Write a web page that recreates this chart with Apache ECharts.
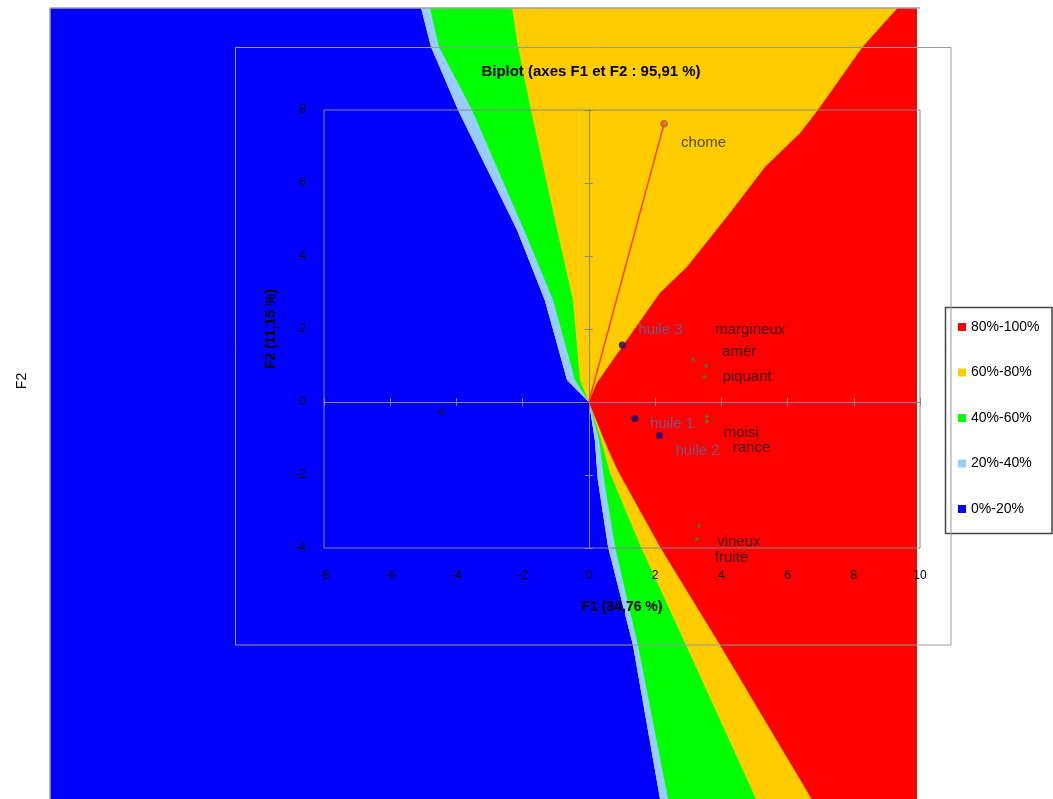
<!DOCTYPE html>
<html>
<head>
<meta charset="utf-8">
<script src="https://cdn.jsdelivr.net/npm/echarts@6/dist/echarts.min.js"></script>
<style>
html,body{margin:0;padding:0;background:#fff;}
#chart{width:1053px;height:799px;}
</style>
</head>
<body>
<div id="chart"></div>
<script>
// ---------------- data ----------------
// Preference-map band edges (F1, F2), top to bottom
const edgeBlueLightBlue = [[-5.07,10.8],[-4.77,9.73],[-3.95,8.0],[-2.17,4.71],[-1.33,2.79],[-0.66,0.60],[0,0],[0.18,-1.04],[0.27,-2.14],[0.58,-3.97],[1.33,-6.66],[2.15,-10.88]];
const edgeLightBlueGreen = [[-4.80,10.8],[-4.53,9.73],[-3.53,8.0],[-1.96,4.71],[-1.08,2.79],[-0.42,0.60],[0,0],[0.31,-1.04],[0.46,-2.14],[0.79,-3.97],[1.48,-6.66],[2.39,-10.88]];
const edgeGreenOrange = [[-2.32,10.8],[-2.14,9.73],[-1.75,8.0],[-0.96,4.71],[-0.48,2.79],[-0.27,0.60],[0,0],[0.37,-1.04],[0.64,-1.95],[1.57,-3.97],[2.93,-6.66],[5.05,-10.88]];
const edgeOrangeRed = [[9.33,10.8],[8.27,9.73],[6.92,8.0],[6.38,7.37],[5.32,6.44],[4.26,5.18],[2.96,3.70],[2.15,2.99],[1.09,1.62],[0.24,0.52],[0,0],[0.46,-1.04],[0.82,-1.78],[1.03,-2.14],[2.15,-3.97],[3.96,-6.66],[6.73,-10.88]];

const bandNames = ['80%-100%','60%-80%','40%-60%','20%-40%','0%-20%'];

// Observations
const obsNames = ['huile 1','huile 2','huile 3',''];
const obsF1 = [1.39, 2.13, 1.01, -4.45];
const obsF2 = [-0.45, -0.92, 1.56, -0.27];

// Variables
const varNames = ['margineux','amér','piquant','moisi','rance','vineux','fruité'];
const varF1 = [3.15, 3.54, 3.49, 3.56, 3.56, 3.33, 3.26];
const varF2 = [1.17, 0.99, 0.69, -0.40, -0.54, -3.40, -3.75];

// Consumer vector
const consumerName = 'chome';
const consumerF1 = 2.27;
const consumerF2 = 7.62;

// Axis ticks
const f1Min = -8, f1Max = 10, f1Step = 2;
const f2Min = -4, f2Max = 8, f2Step = 2;

// ---------------- layout (pixels) ----------------
const FONT = 'Liberation Sans, Arial, sans-serif';
const G1 = {left:324, top:110, width:596, height:438};
const G0 = {left:50, top:8, width:867, height:791};
const obsLabelOffsets = [[15,5],[16,15],[16,-15],[0,0]];
const varLabelOffsets = [[22,-29],[16,-14],[18,0],[17,16],[26,26],[18,16],[18,19]];
const consumerLabelOffset = [17,19];

const pxX = G1.width/(f1Max-f1Min), pxY = G1.height/(f2Max-f2Min);
const x0min = f1Min - (G1.left-G0.left)/pxX;
const x0max = f1Max + ((G0.left+G0.width)-(G1.left+G1.width))/pxX;
const y0max = f2Max + (G1.top-G0.top)/pxY;
const y0min = f2Min - ((G0.top+G0.height)-(G1.top+G1.height))/pxY;

function band(name, color, edge, side){
  return {
    type:'custom', name:name, xAxisIndex:0, yAxisIndex:0, z:1, clip:true,
    itemStyle:{color:color}, data:[0], silent:true,
    renderItem:function(params, api){
      const pts = edge.map(p=>api.coord(p));
      const xe = side==='left' ? x0min-1 : x0max+1;
      pts.push(api.coord([xe, edge[edge.length-1][1]-0.5]));
      pts.push(api.coord([xe, edge[0][1]+0.5]));
      return {type:'polygon', shape:{points:pts}, style:{fill:color}};
    }
  };
}

const chart = echarts.init(document.getElementById('chart'), null, {renderer:'canvas'});

function zeroAxis(min, max, step, position, inside){
  return {
    gridIndex:1, type:'value', z:5, min:min, max:max, interval:step, position:position,
    axisLine:{show:true, onZero:true, lineStyle:{color:'#868686', width:1}},
    axisTick:{show:true, inside:inside, length:4, lineStyle:{color:'#868686'}},
    axisLabel:{show:false}, splitLine:{show:false}
  };
}

const option = {
  animation:false,
  textStyle:{fontFamily:FONT},
  grid:[
    {left:G0.left, top:G0.top, width:G0.width, height:G0.height, show:false},
    {left:G1.left, top:G1.top, width:G1.width, height:G1.height, show:true, borderColor:'#868686', borderWidth:1, backgroundColor:'transparent', z:5}
  ],
  xAxis:[
    {gridIndex:0, type:'value', min:x0min, max:x0max, show:false},
    zeroAxis(f1Min, f1Max, f1Step, 'bottom', false),
    zeroAxis(f1Min, f1Max, f1Step, 'bottom', true),
    {gridIndex:1, type:'value', min:f1Min, max:f1Max, interval:f1Step, position:'bottom', z:5,
     axisLine:{show:false, onZero:false}, axisTick:{show:false}, splitLine:{show:false},
     axisLabel:{show:true, margin:22, color:'#000', fontSize:12, fontFamily:FONT},
     name:'F1 (84,76 %)', nameLocation:'middle', nameGap:52,
     nameTextStyle:{color:'#000', fontSize:14, fontWeight:'bold', fontFamily:FONT}}
  ],
  yAxis:[
    {gridIndex:0, type:'value', min:y0min, max:y0max, show:false},
    zeroAxis(f2Min, f2Max, f2Step, 'left', false),
    zeroAxis(f2Min, f2Max, f2Step, 'left', true),
    {gridIndex:1, type:'value', min:f2Min, max:f2Max, interval:f2Step, position:'left', z:5,
     axisLine:{show:false, onZero:false}, axisTick:{show:false}, splitLine:{show:false},
     axisLabel:{show:true, margin:18, color:'#000', fontSize:12, fontFamily:FONT},
     name:'F2 (11,15 %)', nameLocation:'middle', nameGap:46,
     nameTextStyle:{color:'#000', fontSize:14, fontWeight:'bold', fontFamily:FONT}}
  ],
  legend:{
    data:bandNames, orient:'vertical', left:958, top:320, padding:0,
    itemWidth:8, itemHeight:8, itemGap:31.5, icon:'rect', z:5,
    textStyle:{color:'#000', fontSize:14, fontFamily:FONT}, selectedMode:false
  },
  series:[
    band(bandNames[4], '#0000FF', edgeBlueLightBlue, 'left'),
    band(bandNames[3], '#99CCFF', edgeBlueLightBlue, 'right'),
    band(bandNames[2], '#00FF00', edgeLightBlueGreen, 'right'),
    band(bandNames[1], '#FFCC00', edgeGreenOrange, 'right'),
    band(bandNames[0], '#FF0000', edgeOrangeRed, 'right'),
    {
      type:'line', xAxisIndex:1, yAxisIndex:1, z:6, symbol:'none', silent:true,
      lineStyle:{color:'#FF3C1E', width:1.5},
      data:[[0,0],[consumerF1, consumerF2]]
    },
    {
      type:'scatter', xAxisIndex:1, yAxisIndex:1, z:7, symbol:'circle', symbolSize:7,
      itemStyle:{color:'#E8552E', borderColor:'#7C7C5C', borderWidth:1},
      label:{show:true, position:'inside', align:'left', verticalAlign:'middle', formatter:'{b}',
             color:'#2A2A1A', fontSize:15, fontFamily:FONT, offset:consumerLabelOffset},
      data:[{name:consumerName, value:[consumerF1, consumerF2]}]
    },
    {
      type:'scatter', xAxisIndex:1, yAxisIndex:1, z:7, symbol:'circle', symbolSize:7,
      itemStyle:{color:'#0A0A78'},
      label:{show:true, position:'inside', align:'left', verticalAlign:'middle', formatter:'{b}',
             color:'#5A6CA6', fontSize:15, fontFamily:FONT},
      data:obsNames.map((n,i)=>({name:n, value:[obsF1[i], obsF2[i]],
             label:{show:n!=='', offset:obsLabelOffsets[i]}}))
    },
    {
      type:'scatter', xAxisIndex:1, yAxisIndex:1, z:7, symbol:'circle', symbolSize:4,
      itemStyle:{color:'#4E7A36'},
      label:{show:true, position:'inside', align:'left', verticalAlign:'middle', formatter:'{b}',
             color:'#111111', fontSize:15, fontFamily:FONT},
      data:varNames.map((n,i)=>({name:n, value:[varF1[i], varF2[i]],
             label:{offset:varLabelOffsets[i]}}))
    }
  ],
  graphic:[
    {type:'line', z:20, silent:true, shape:{x1:G0.left, y1:G0.top, x2:G0.left+G0.width+3, y2:G0.top}, style:{stroke:'#A0A0A0', lineWidth:1.5}},
    {type:'line', z:20, silent:true, shape:{x1:G0.left, y1:G0.top, x2:G0.left, y2:799}, style:{stroke:'#A0A0A0', lineWidth:1.5}},
    {type:'rect', z:20, silent:true, shape:{x:945.5, y:307.5, width:106.5, height:226}, style:{fill:'none', stroke:'#444', lineWidth:1.5}},
    {type:'rect', z:21, silent:true, shape:{x:235.5, y:47.5, width:715.5, height:597.5}, style:{fill:'none', stroke:'#9A9A9A', lineWidth:1}},
    {type:'text', z:21, silent:true, x:591, y:72,
     style:{text:'Biplot (axes F1 et F2 : 95,91 %)', align:'center', verticalAlign:'middle', fontSize:15, fontWeight:'bold', fontFamily:FONT, fill:'#000'}},
    {type:'text', z:21, silent:true, x:22, y:381, rotation:Math.PI/2,
     style:{text:'F2', align:'center', verticalAlign:'middle', fontSize:14, fontFamily:FONT, fill:'#000'}}
  ]
};
chart.setOption(option);
</script>
</body>
</html>
